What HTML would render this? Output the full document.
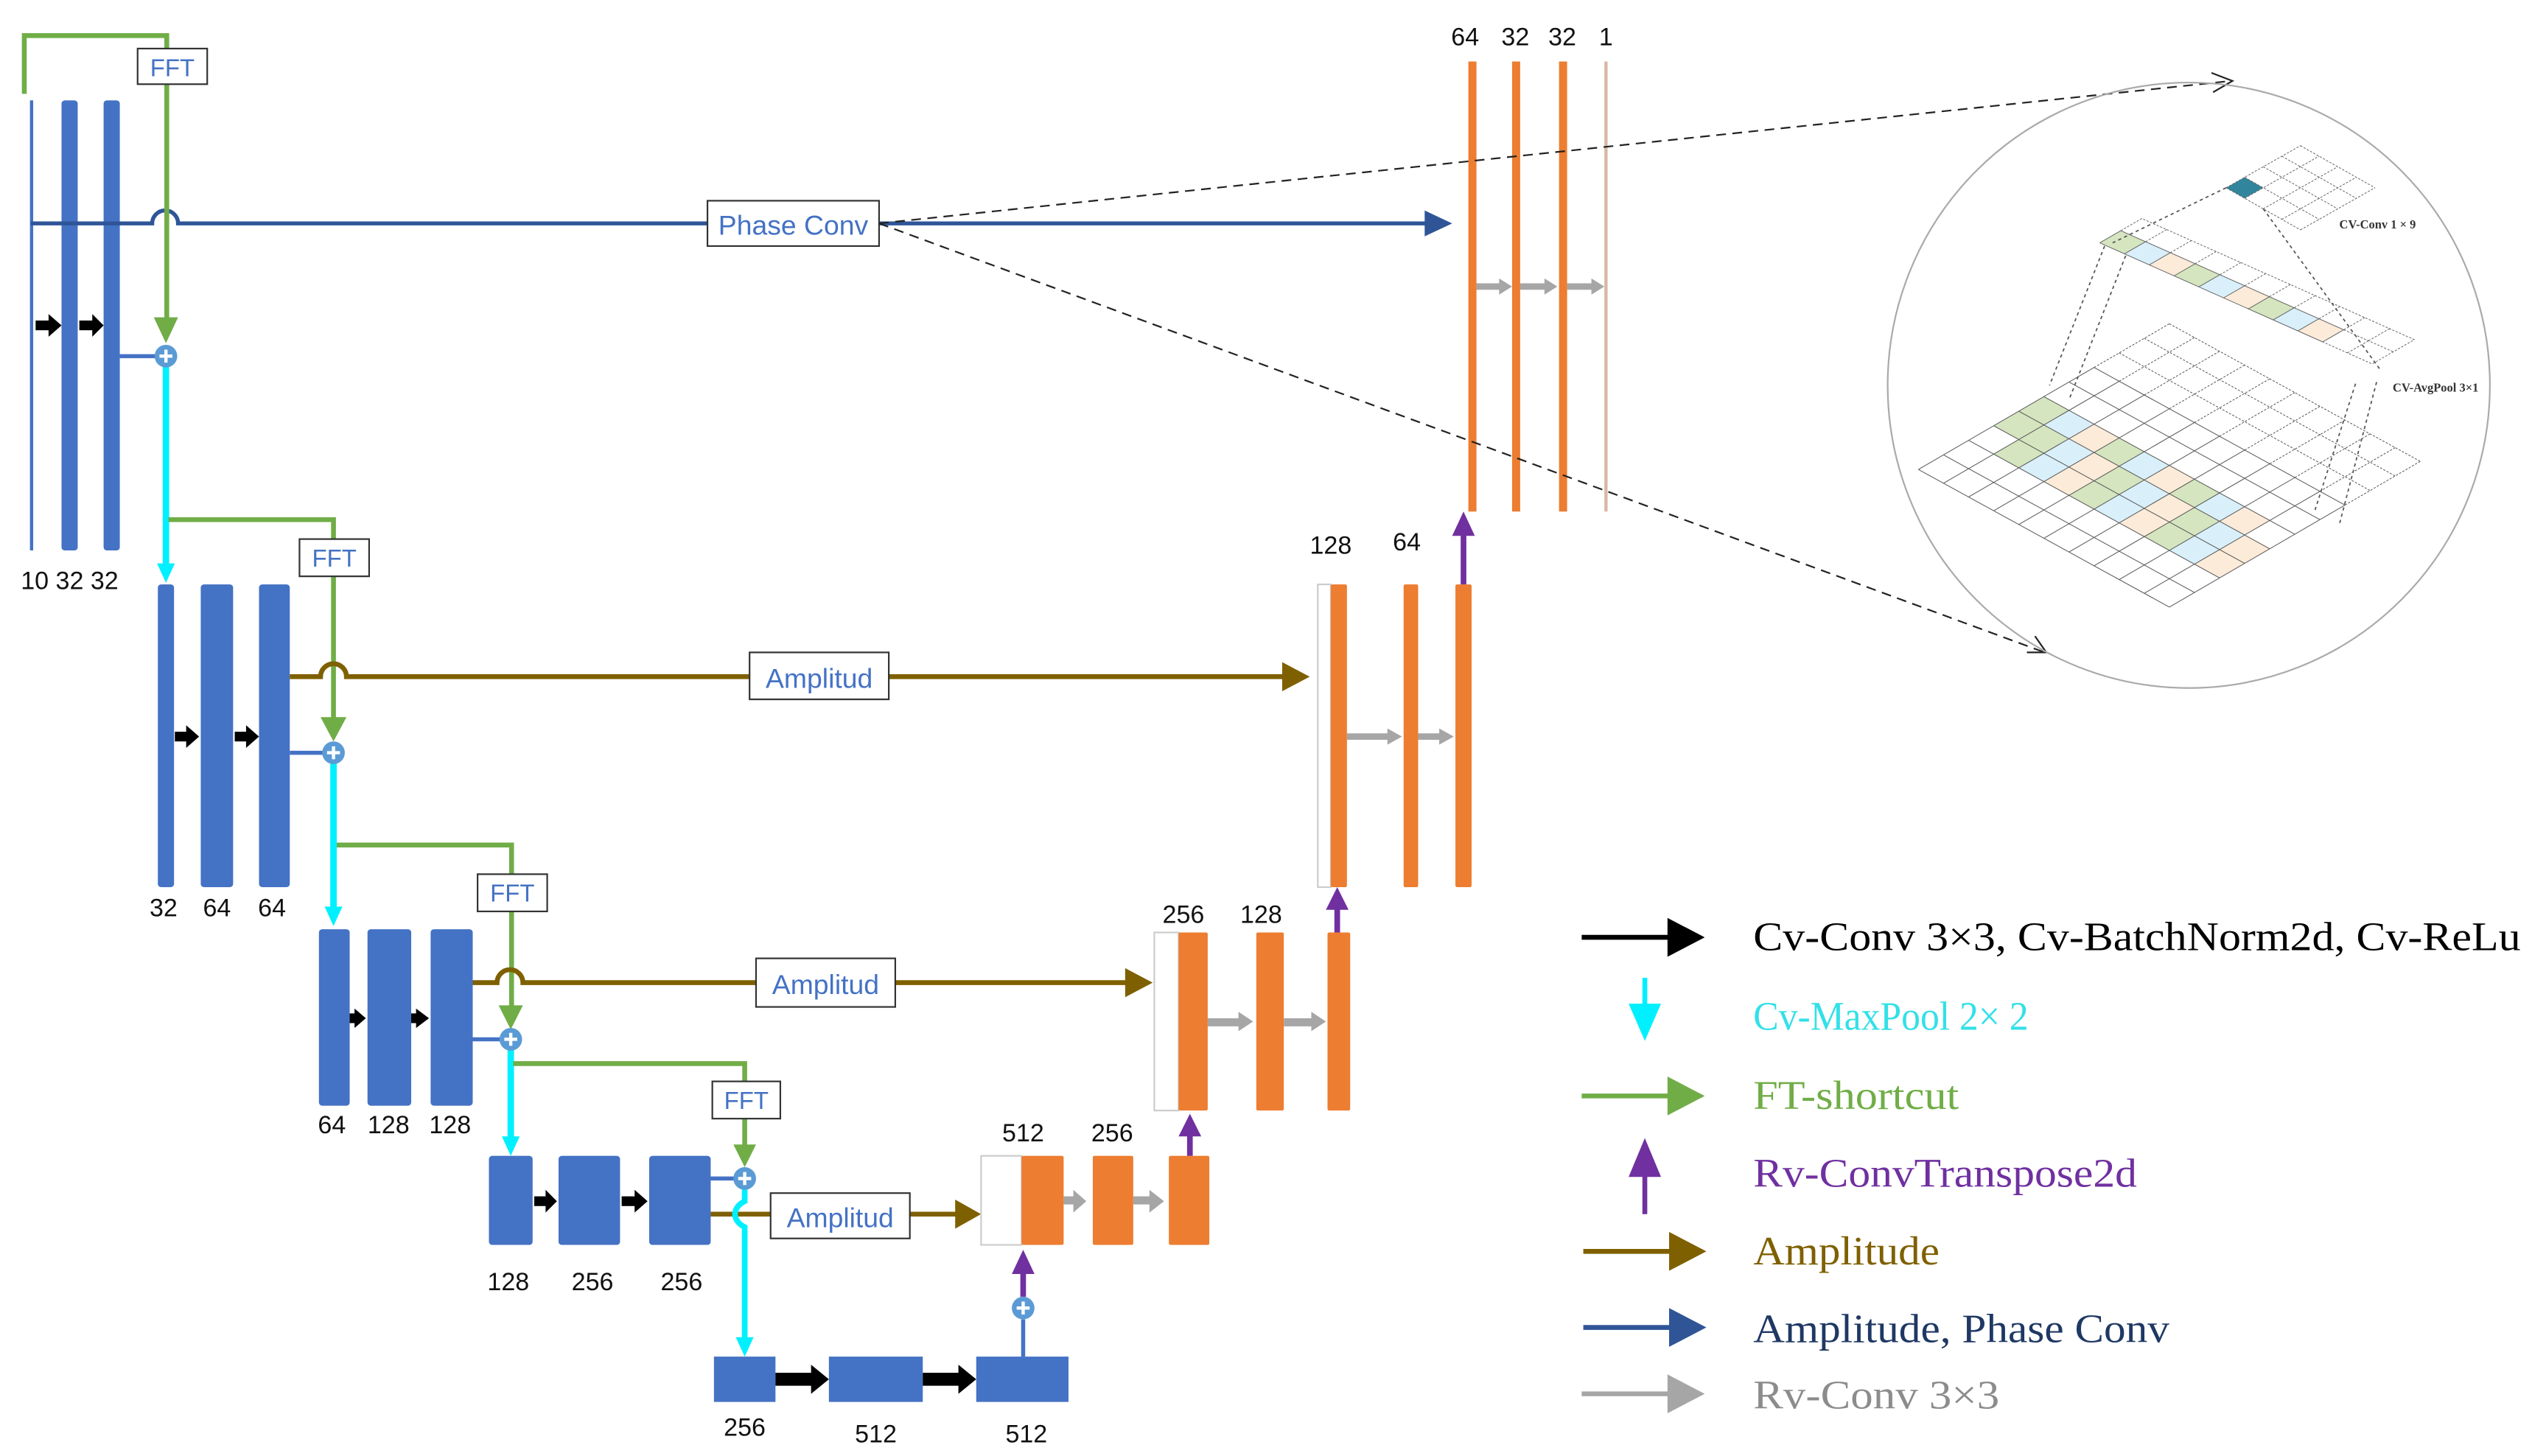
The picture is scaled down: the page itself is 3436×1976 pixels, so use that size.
<!DOCTYPE html>
<html><head><meta charset="utf-8"><style>
html,body{margin:0;padding:0;background:#fff;}
svg{display:block;}
.n{font-family:"Liberation Sans",sans-serif;font-size:15.5px;fill:#111;text-anchor:middle;}
.b{font-family:"Liberation Sans",sans-serif;font-size:15px;fill:#4472c4;text-anchor:middle;}
.lg{font-family:"Liberation Serif",serif;font-size:25px;}
.g{stroke:#444;stroke-width:1;fill:none;}
.gd{stroke:#555;stroke-width:1;fill:none;stroke-dasharray:3 2;}
</style></head><body>
<svg width="3436" height="1976" viewBox="0 0 1564 899.4" preserveAspectRatio="none" xmlns="http://www.w3.org/2000/svg">
<rect x="0" y="0" width="1564" height="900" fill="#fff"/>

<!-- ===== Encoder level 1 ===== -->
<rect x="18.5" y="62" width="2" height="278" fill="#4472c4"/>
<rect x="38" y="62" width="10" height="278" rx="2" fill="#4472c4"/>
<rect x="64" y="62" width="10" height="278" rx="2" fill="#4472c4"/>
<text class="n" x="43" y="364">10 32 32</text>
<!-- black arrows -->
<g fill="#000"><rect x="22" y="198" width="9" height="6"/><polygon points="30,194 38,201 30,208"/>
<rect x="49" y="198" width="9" height="6"/><polygon points="57,194 64,201 57,208"/></g>
<!-- phase line -->
<path d="M19 138 H94 A8 8 0 0 1 110 138 H437" stroke="#2f5597" stroke-width="2.5" fill="none"/>
<path d="M543 138 H883" stroke="#2f5597" stroke-width="2.5"/>
<polygon points="880,130 897,138 880,146" fill="#2f5597"/>
<rect x="437" y="124" width="106" height="28" fill="#fff" stroke="#333" stroke-width="1"/>
<text class="b" x="490" y="145" style="font-size:17px">Phase Conv</text>
<!-- green shortcut 1 -->
<path d="M15 58 V22 H103 V198" stroke="#70ad47" stroke-width="3" fill="none"/>
<polygon points="95,196 110,196 102.5,212" fill="#70ad47"/>
<rect x="85" y="30" width="43" height="22" fill="#fff" stroke="#333" stroke-width="1"/>
<text class="b" x="106.5" y="47">FFT</text>
<path d="M74 220 H96" stroke="#4472c4" stroke-width="2.5"/>
<!-- cyan -->
<path d="M102.5 226 V350" stroke="#00f0ff" stroke-width="4"/>
<polygon points="97,348 108,348 102.5,360" fill="#00f0ff"/>
<circle cx="102.5" cy="220" r="7" fill="#5b9bd5"/>
<path d="M98.5 220 H106.5 M102.5 216 V224" stroke="#fff" stroke-width="2"/>

<!-- ===== Encoder level 2 ===== -->
<rect x="97.5" y="361" width="10" height="187" rx="2" fill="#4472c4"/>
<rect x="124" y="361" width="20" height="187" rx="2" fill="#4472c4"/>
<rect x="160" y="361" width="19" height="187" rx="2" fill="#4472c4"/>
<text class="n" x="101" y="566">32</text><text class="n" x="134" y="566">64</text><text class="n" x="168" y="566">64</text>
<g fill="#000"><rect x="108" y="452" width="8" height="6"/><polygon points="115,448 123,455 115,462"/>
<rect x="145" y="452" width="8" height="6"/><polygon points="152,448 160,455 152,462"/></g>
<path d="M104 321 H206 V445" stroke="#70ad47" stroke-width="3" fill="none"/>
<polygon points="198,443 214,443 206,458" fill="#70ad47"/>
<rect x="185" y="333" width="43" height="23" fill="#fff" stroke="#333" stroke-width="1"/>
<text class="b" x="206.5" y="350">FFT</text>
<path d="M179 418 H198 A8 8 0 0 1 214 418 H463" stroke="#7f6000" stroke-width="3" fill="none"/>
<path d="M549 418 H795" stroke="#7f6000" stroke-width="3"/>
<polygon points="792,409 809,418 792,427" fill="#7f6000"/>
<rect x="463" y="403" width="86" height="29" fill="#fff" stroke="#333" stroke-width="1"/>
<text class="b" x="506" y="425" style="font-size:17px">Amplitud</text>
<path d="M179 465 H200" stroke="#4472c4" stroke-width="2.5"/>
<path d="M206 471 V562" stroke="#00f0ff" stroke-width="4"/>
<polygon points="200.5,560 211.5,560 206,572" fill="#00f0ff"/>
<circle cx="206" cy="465" r="7" fill="#5b9bd5"/>
<path d="M202 465 H210 M206 461 V469" stroke="#fff" stroke-width="2"/>

<!-- ===== Encoder level 3 ===== -->
<rect x="197" y="574" width="19" height="109" rx="2" fill="#4472c4"/>
<rect x="227" y="574" width="27" height="109" rx="2" fill="#4472c4"/>
<rect x="266" y="574" width="26" height="109" rx="2" fill="#4472c4"/>
<text class="n" x="205" y="700">64</text><text class="n" x="240" y="700">128</text><text class="n" x="278" y="700">128</text>
<g fill="#000"><rect x="216" y="626" width="4" height="6"/><polygon points="219,623 226,629 219,635"/>
<rect x="254" y="626" width="4" height="6"/><polygon points="257,623 265,629 257,635"/></g>
<path d="M208 522 H316 V623" stroke="#70ad47" stroke-width="3" fill="none"/>
<polygon points="308,621 323,621 315.5,636" fill="#70ad47"/>
<rect x="295" y="540" width="43" height="23" fill="#fff" stroke="#333" stroke-width="1"/>
<text class="b" x="316.5" y="557">FFT</text>
<path d="M292 607 H307 A8 8 0 0 1 323 607 H467" stroke="#7f6000" stroke-width="3" fill="none"/>
<path d="M553 607 H698" stroke="#7f6000" stroke-width="3"/>
<polygon points="695,598 712,607 695,616" fill="#7f6000"/>
<rect x="467" y="592" width="86" height="30" fill="#fff" stroke="#333" stroke-width="1"/>
<text class="b" x="510" y="614" style="font-size:17px">Amplitud</text>
<path d="M292 642 H309" stroke="#4472c4" stroke-width="2.5"/>
<path d="M315.5 648 V704" stroke="#00f0ff" stroke-width="4"/>
<polygon points="310,702 321,702 315.5,714" fill="#00f0ff"/>
<circle cx="315.5" cy="642" r="7" fill="#5b9bd5"/>
<path d="M311.5 642 H319.5 M315.5 638 V646" stroke="#fff" stroke-width="2"/>

<!-- ===== Encoder level 4 ===== -->
<rect x="302" y="714" width="27" height="55" rx="2" fill="#4472c4"/>
<rect x="345" y="714" width="38" height="55" rx="2" fill="#4472c4"/>
<rect x="401" y="714" width="38" height="55" rx="2" fill="#4472c4"/>
<text class="n" x="314" y="797">128</text><text class="n" x="366" y="797">256</text><text class="n" x="421" y="797">256</text>
<g fill="#000"><rect x="330" y="739" width="8" height="6"/><polygon points="337,735 344,742 337,749"/>
<rect x="384" y="739" width="9" height="6"/><polygon points="392,735 400,742 392,749"/></g>
<path d="M317 657 H460 V710" stroke="#70ad47" stroke-width="3" fill="none"/>
<polygon points="453,707 467,707 460,721" fill="#70ad47"/>
<rect x="440" y="668" width="42" height="23" fill="#fff" stroke="#333" stroke-width="1"/>
<text class="b" x="461" y="685">FFT</text>
<path d="M439 750 H476" stroke="#7f6000" stroke-width="3"/>
<path d="M562 750 H592" stroke="#7f6000" stroke-width="3"/>
<polygon points="590,741 606,750 590,759" fill="#7f6000"/>
<rect x="476" y="737" width="86" height="28" fill="#fff" stroke="#333" stroke-width="1"/>
<text class="b" x="519" y="758" style="font-size:17px">Amplitud</text>
<path d="M439 728 H454" stroke="#4472c4" stroke-width="2.5"/>
<path d="M460 734 V742 C452 746 452 754 460 758 V828" stroke="#00f0ff" stroke-width="3.5" fill="none"/>
<polygon points="454.5,826 465.5,826 460,838" fill="#00f0ff"/>
<circle cx="460" cy="728" r="7" fill="#5b9bd5"/>
<path d="M456 728 H464 M460 724 V732" stroke="#fff" stroke-width="2"/>

<!-- ===== Bottom ===== -->
<rect x="441" y="838" width="38" height="28" fill="#4472c4"/>
<rect x="512" y="838" width="58" height="28" fill="#4472c4"/>
<rect x="603" y="838" width="57" height="28" fill="#4472c4"/>
<g fill="#000"><rect x="479" y="848" width="24" height="8"/><polygon points="501,843 512,852 501,861"/>
<rect x="570" y="848" width="24" height="8"/><polygon points="592,843 603,852 592,861"/></g>
<text class="n" x="460" y="887">256</text><text class="n" x="541" y="891">512</text><text class="n" x="634" y="891">512</text>
<path d="M632 838 V815" stroke="#4472c4" stroke-width="2.5"/>
<circle cx="632" cy="808" r="7" fill="#5b9bd5"/>
<path d="M628 808 H636 M632 804 V812" stroke="#fff" stroke-width="2"/>
<path d="M632 801 V785" stroke="#7030a0" stroke-width="3.5"/>
<polygon points="625,787 639,787 632,772" fill="#7030a0"/>

<!-- ===== Decoder level 4 ===== -->
<rect x="606" y="714" width="25" height="55" fill="#fff" stroke="#ccc" stroke-width="1"/>
<rect x="631" y="714" width="26" height="55" rx="1" fill="#ed7d31"/>
<rect x="675" y="714" width="25" height="55" rx="1" fill="#ed7d31"/>
<rect x="722" y="714" width="25" height="55" rx="1" fill="#ed7d31"/>
<text class="n" x="632" y="705">512</text><text class="n" x="687" y="705">256</text>
<g fill="#a6a6a6"><rect x="657" y="739" width="7" height="5"/><polygon points="663,735 671,742 663,749"/>
<rect x="700" y="739" width="12" height="5"/><polygon points="710,735 719,742 710,749"/></g>
<path d="M735 714 V700" stroke="#7030a0" stroke-width="3.5"/>
<polygon points="728,702 742,702 735,688" fill="#7030a0"/>

<!-- ===== Decoder level 3 ===== -->
<rect x="713" y="576" width="15" height="110" fill="#fff" stroke="#ccc" stroke-width="1"/>
<rect x="728" y="576" width="18" height="110" rx="1" fill="#ed7d31"/>
<rect x="776" y="576" width="17" height="110" rx="1" fill="#ed7d31"/>
<rect x="820" y="576" width="14" height="110" rx="1" fill="#ed7d31"/>
<text class="n" x="731" y="570">256</text><text class="n" x="779" y="570">128</text>
<g fill="#a6a6a6"><rect x="746" y="629" width="20" height="5"/><polygon points="765,625 774,631 765,637"/>
<rect x="793" y="629" width="18" height="5"/><polygon points="810,625 819,631 810,637"/></g>
<path d="M826 576 V560" stroke="#7030a0" stroke-width="3.5"/>
<polygon points="819,562 833,562 826,548" fill="#7030a0"/>

<!-- ===== Decoder level 2 ===== -->
<rect x="814" y="361" width="8" height="187" fill="#fff" stroke="#ccc" stroke-width="1"/>
<rect x="822" y="361" width="10" height="187" rx="1" fill="#ed7d31"/>
<rect x="867" y="361" width="9" height="187" rx="1" fill="#ed7d31"/>
<rect x="899" y="361" width="10" height="187" rx="1" fill="#ed7d31"/>
<text class="n" x="822" y="342">128</text><text class="n" x="869" y="340">64</text>
<g fill="#a6a6a6"><rect x="832" y="453" width="26" height="4"/><polygon points="857,450 866,455 857,460"/>
<rect x="876" y="453" width="15" height="4"/><polygon points="889,450 898,455 889,460"/></g>
<path d="M904 361 V329" stroke="#7030a0" stroke-width="3.5"/>
<polygon points="897,331 911,331 904,316" fill="#7030a0"/>

<!-- ===== Decoder level 1 ===== -->
<rect x="907" y="38" width="5" height="278" fill="#ed7d31"/>
<rect x="934" y="38" width="5" height="278" fill="#ed7d31"/>
<rect x="963" y="38" width="5" height="278" fill="#ed7d31"/>
<rect x="991" y="38" width="2" height="278" fill="#d9b8a5"/>
<text class="n" x="905" y="28">64</text><text class="n" x="936" y="28">32</text><text class="n" x="965" y="28">32</text><text class="n" x="992" y="28">1</text>
<g fill="#a6a6a6"><rect x="912" y="175" width="16" height="4"/><polygon points="926,172 934,177 926,182"/>
<rect x="939" y="175" width="17" height="4"/><polygon points="954,172 962,177 954,182"/>
<rect x="968" y="175" width="16" height="4"/><polygon points="983,172 991,177 983,182"/></g>

<!-- dashed zoom lines -->
<path d="M543 138 L1378 50" stroke="#222" stroke-width="1" stroke-dasharray="6 4" fill="none"/>
<path d="M1366 45 L1379 50 L1367 57" stroke="#222" stroke-width="1" fill="none"/>
<path d="M543 138 L1263 403" stroke="#222" stroke-width="1" stroke-dasharray="6 4" fill="none"/>
<path d="M1252 403 L1264 403 L1257 393" stroke="#222" stroke-width="1" fill="none"/>

<!-- inset circle -->
<ellipse cx="1352" cy="238" rx="186" ry="187" fill="none" stroke="#aaa" stroke-width="1"/>

<!-- big grid: origin left corner, u toward top corner, v toward bottom corner -->
<g transform="matrix(15.5,-9,15.5,8.5,1185,290)">
  <g>
    <rect x="3" y="0" width="1" height="1" fill="#d5e5bf"/><rect x="4" y="0" width="1" height="1" fill="#d5e5bf"/>
    <rect x="2" y="1" width="1" height="1" fill="#d5e5bf"/><rect x="3" y="1" width="1" height="1" fill="#d5e5bf"/>
    <rect x="4" y="1" width="1" height="1" fill="#d9f0fb"/><rect x="2" y="2" width="1" height="1" fill="#d9f0fb"/>
    <rect x="3" y="2" width="1" height="1" fill="#d9f0fb"/><rect x="4" y="2" width="1" height="1" fill="#fcebd9"/>
    <rect x="2" y="3" width="1" height="1" fill="#fcebd9"/><rect x="3" y="3" width="1" height="1" fill="#fcebd9"/>
    <rect x="4" y="3" width="1" height="1" fill="#d5e5bf"/><rect x="2" y="4" width="1" height="1" fill="#d5e5bf"/>
    <rect x="3" y="4" width="1" height="1" fill="#d5e5bf"/><rect x="4" y="4" width="1" height="1" fill="#d9f0fb"/>
    <rect x="2" y="5" width="1" height="1" fill="#d9f0fb"/><rect x="3" y="5" width="1" height="1" fill="#d9f0fb"/>
    <rect x="4" y="5" width="1" height="1" fill="#fcebd9"/><rect x="2" y="6" width="1" height="1" fill="#fcebd9"/>
    <rect x="3" y="6" width="1" height="1" fill="#fcebd9"/><rect x="4" y="6" width="1" height="1" fill="#d5e5bf"/>
    <rect x="2" y="7" width="1" height="1" fill="#d5e5bf"/><rect x="3" y="7" width="1" height="1" fill="#d5e5bf"/>
    <rect x="4" y="7" width="1" height="1" fill="#d9f0fb"/><rect x="2" y="8" width="1" height="1" fill="#d9f0fb"/>
    <rect x="3" y="8" width="1" height="1" fill="#d9f0fb"/><rect x="3" y="9" width="1" height="1" fill="#fcebd9"/>
    <rect x="4" y="8" width="1" height="1" fill="#fcebd9"/><rect x="2" y="9" width="1" height="1" fill="#fcebd9"/>
  </g>
  <g stroke="#555" stroke-width="1" vector-effect="non-scaling-stroke">
    <path vector-effect="non-scaling-stroke" d="M0 0 H7 M0 1 H7 M0 2 H7 M0 3 H7 M0 4 H7 M0 5 H7 M0 6 H7 M0 7 H7 M0 8 H7 M0 9 H7 M0 10 H7"/>
    <path vector-effect="non-scaling-stroke" d="M0 0 V10 M1 0 V10 M2 0 V10 M3 0 V10 M4 0 V10 M5 0 V10 M6 0 V10 M7 0 V10"/>
    <path vector-effect="non-scaling-stroke" stroke-dasharray="3 2" d="M7 0 H10 M7 1 H10 M7 2 H10 M7 3 H10 M7 4 H10 M7 5 H10 M7 6 H10 M7 7 H10 M7 8 H10 M7 9 H10 M7 10 H10 M8 0 V10 M9 0 V10 M10 0 V10"/>
  </g>
</g>

<!-- strip (AvgPool) -->
<g transform="matrix(13,-7.5,15.3,6.8,1297,150)">
  <rect x="0" y="0" width="1" height="1" fill="#d5e5bf"/><rect x="0" y="1" width="1" height="1" fill="#d9f0fb"/>
  <rect x="0" y="2" width="1" height="1" fill="#fcebd9"/><rect x="0" y="3" width="1" height="1" fill="#d5e5bf"/>
  <rect x="0" y="4" width="1" height="1" fill="#d9f0fb"/><rect x="0" y="5" width="1" height="1" fill="#fcebd9"/>
  <rect x="0" y="6" width="1" height="1" fill="#d5e5bf"/><rect x="0" y="7" width="1" height="1" fill="#d9f0fb"/>
  <rect x="0" y="8" width="1" height="1" fill="#fcebd9"/>
  <path vector-effect="non-scaling-stroke" stroke="#666" stroke-width="1" fill="none" d="M0 0 V9 M1 0 V9 M0 0 H1 M0 1 H1 M0 2 H1 M0 3 H1 M0 4 H1 M0 5 H1 M0 6 H1 M0 7 H1 M0 8 H1 M0 9 H1"/>
  <path vector-effect="non-scaling-stroke" stroke="#666" stroke-width="1" stroke-dasharray="3 2" fill="none" d="M1 0 H2 V11 H0 V9 M1 1 H2 M1 2 H2 M1 3 H2 M1 4 H2 M1 5 H2 M1 6 H2 M1 7 H2 M1 8 H2 M1 9 H2 M1 10 H2 M0 10 H1 M1 9 V11"/>
</g>

<!-- small top grid -->
<g transform="matrix(11.5,-6.5,11.5,6.5,1375,116)">
  <rect x="0" y="0" width="1" height="1" fill="#31859c"/>
  <path vector-effect="non-scaling-stroke" stroke="#666" stroke-width="1" stroke-dasharray="3 2" fill="none" d="M0 0 H4 M0 1 H4 M0 2 H4 M0 3 H4 M0 4 H4 M0 0 V4 M1 0 V4 M2 0 V4 M3 0 V4 M4 0 V4"/>
</g>

<!-- dotted connectors -->
<g stroke="#555" stroke-width="0.8" stroke-dasharray="2 2" fill="none">
  <path d="M1375 116 L1305 150"/><path d="M1398 129 L1470 228"/>
  <path d="M1300 152 L1266 238"/><path d="M1313 158 L1278 247"/>
  <path d="M1455 237 L1430 315"/><path d="M1468 236 L1445 324"/>
</g>
<text x="1445" y="141" style="font-family:'Liberation Serif',serif;font-size:7.5px;font-weight:bold;fill:#333">CV-Conv 1 × 9</text>
<text x="1478" y="242" style="font-family:'Liberation Serif',serif;font-size:7.5px;font-weight:bold;fill:#333">CV-AvgPool 3×1</text>

<!-- ===== Legend ===== -->
<g>
  <path d="M977 579 H1032" stroke="#000" stroke-width="3"/><polygon points="1030,567 1053,579 1030,591" fill="#000"/>
  <text class="lg" x="1083" y="587" fill="#000" textLength="474" lengthAdjust="spacingAndGlyphs">Cv-Conv 3×3, Cv-BatchNorm2d, Cv-ReLu</text>

  <path d="M1016 604 V622" stroke="#00f0ff" stroke-width="3"/><polygon points="1006,620 1026,620 1016,643" fill="#00f0ff"/>
  <text class="lg" x="1083" y="636" fill="#33e0e8" textLength="170" lengthAdjust="spacingAndGlyphs">Cv-MaxPool 2× 2</text>

  <path d="M977 677 H1032" stroke="#70ad47" stroke-width="3"/><polygon points="1030,665 1053,677 1030,689" fill="#70ad47"/>
  <text class="lg" x="1083" y="685" fill="#70ad47" textLength="127" lengthAdjust="spacingAndGlyphs">FT-shortcut</text>

  <path d="M1016 726 V750" stroke="#7030a0" stroke-width="3"/><polygon points="1006,727 1026,727 1016,703" fill="#7030a0"/>
  <text class="lg" x="1083" y="733" fill="#7030a0" textLength="237" lengthAdjust="spacingAndGlyphs">Rv-ConvTranspose2d</text>

  <path d="M978 773 H1033" stroke="#7f6000" stroke-width="3"/><polygon points="1031,761 1054,773 1031,785" fill="#7f6000"/>
  <text class="lg" x="1083" y="781" fill="#7f6000" textLength="115" lengthAdjust="spacingAndGlyphs">Amplitude</text>

  <path d="M978 820 H1033" stroke="#2f5597" stroke-width="3"/><polygon points="1031,808 1054,820 1031,832" fill="#2f5597"/>
  <text class="lg" x="1083" y="829" fill="#1f3864" textLength="257" lengthAdjust="spacingAndGlyphs">Amplitude, Phase Conv</text>

  <path d="M977 861 H1032" stroke="#a6a6a6" stroke-width="3"/><polygon points="1030,849 1053,861 1030,873" fill="#a6a6a6"/>
  <text class="lg" x="1083" y="870" fill="#8c8c8c" textLength="152" lengthAdjust="spacingAndGlyphs">Rv-Conv 3×3</text>
</g>
</svg>
</body></html>
